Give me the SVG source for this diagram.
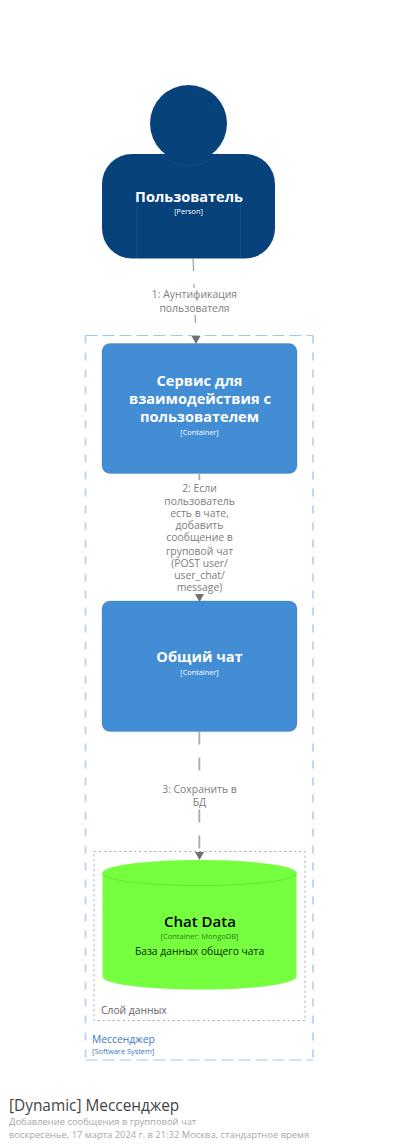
<svg xmlns="http://www.w3.org/2000/svg" width="400" height="1146" viewBox="0 0 400 1146">
<style>
text{font-family:"Open Sans","Noto Sans","DejaVu Sans",sans-serif;text-anchor:middle}
.link{fill:none;stroke:#adadad;stroke-width:1.9;stroke-dasharray:13 13}
.thin{stroke:#8c8c8c;stroke-width:1}
.lab{font-size:10.4px;fill:#7d7d7d}
.mask{fill:#fff}
.cont{fill:#438dd5;stroke:#2e6295;stroke-opacity:.25;stroke-width:1}
.wt{fill:#fff;font-weight:700}
.tag{font-size:7.3px}
.left{text-anchor:start}
.head{fill:#707070}
.bh{fill:none;stroke:#a3c5e6;stroke-width:1.1;stroke-dasharray:12 5}
.bv{fill:none;stroke:#bcd3ea;stroke-width:1.8;stroke-dasharray:8 9}
</style>
<rect width="400" height="1146" fill="#fff"/>
<g id="boundary-system">
<path class="bh" d="M85.500 335.500H313M85.500 1060H313"/>
<path class="bv" d="M85.500 335.500V1060M313 335.500V1060"/>
<text class="left" x="92" y="1043" font-size="10.300px" fill="#3a79bd">Мессенджер</text>
<text class="left" x="92" y="1054" font-size="7.400px" fill="#3a79bd">[Software System]</text>
</g>
<g id="boundary-data">
<rect x="94" y="851.5" width="211" height="169" fill="none" stroke="#b5b5b5" stroke-width="1" stroke-dasharray="2.5 2.5"/>
<text class="left" x="101" y="1014" font-size="10.300px" fill="#666">Слой данных</text>
</g>
<g id="person">
<circle cx="188.5" cy="123.5" r="38.5" fill="#08427b"/>
<rect x="102" y="154" width="173" height="104.500" rx="30" fill="#08427b"/>
<path d="M137 202V258M240.500 202V258" stroke="#1d5288" stroke-width=".8" fill="none"/>
<path d="M160 153.500A38.500 38.500 0 0 0 217 153.500" stroke="#1d5288" stroke-width=".6" fill="none"/>
<text class="wt" x="189" y="202" font-size="14.500px">Пользователь</text>
<text x="188.500" y="214" class="tag" fill="#fff">[Person]</text>
</g>
<g id="service">
<rect class="cont" x="102" y="343.500" width="195" height="130" rx="8"/>
<text class="wt" x="199.500" y="385.500" font-size="14.600px">Сервис для</text>
<text class="wt" x="200" y="403.500" font-size="14.600px">взаимодействия с</text>
<text class="wt" x="199.500" y="421.500" font-size="14.600px">пользователем</text>
<text x="199.500" y="434.500" class="tag" fill="#fff">[Container]</text>
</g>
<g id="chat">
<rect class="cont" x="102" y="601" width="195" height="130.500" rx="8"/>
<text class="wt" x="199.500" y="662" font-size="14.600px">Общий чат</text>
<text x="199.500" y="674.500" class="tag" fill="#fff">[Container]</text>
</g>
<g id="chat-data">
<path d="M102.500 873C102.500 865.500 146 860 199.500 860S296.500 865.500 296.500 873V976.500C296.500 984 253 989.500 199.500 989.500S102.500 984 102.500 976.500Z" fill="#76ff3e"/>
<path d="M102.500 873C102.500 880.500 146 885.500 199.500 885.500S296.500 880.500 296.500 873" fill="none" stroke="#62dc34" stroke-width=".8"/>
<text x="200" y="927" font-size="15px" font-weight="600" fill="#000">Chat Data</text>
<text x="199.500" y="938.500" class="tag" fill="#33781a" style="font-size:7.500px">[Container: MongoDB]</text>
<text x="199.500" y="955" font-size="10.300px" fill="#0b2b00">База данных общего чата</text>
</g>
<g id="connectors">
<path class="link thin" d="M193 258L195.900 336"/>
<path class="head" d="M191.500 336H200.500L196 344Z"/>
<rect class="mask" x="148" y="288" width="94" height="27"/>
<text class="lab" x="194.500" y="298">1: Аунтификация</text>
<text class="lab" x="194.500" y="312">пользователя</text>
<path class="link" d="M199.300 473.500V594"/>
<path class="head" d="M195 594H204L199.500 602Z"/>
<rect class="mask" x="163" y="480" width="73" height="113"/>
<text class="lab" x="199.500" y="492">2: Если</text>
<text class="lab" x="199.500" y="504.500">пользователь</text>
<text class="lab" x="199.500" y="516.500">есть в чате,</text>
<text class="lab" x="199.500" y="529">добавить</text>
<text class="lab" x="199.500" y="541">сообщение в</text>
<text class="lab" x="199.500" y="554.500">груповой чат</text>
<text class="lab" x="199.500" y="566.500">(POST user/</text>
<text class="lab" x="199.500" y="578.500">user_chat/</text>
<text class="lab" x="199.500" y="591">message)</text>
<path class="link" d="M199.300 731.500V852"/>
<path class="head" d="M195 852H204L199.500 860Z"/>
<rect class="mask" x="160" y="783" width="79" height="26"/>
<text class="lab" x="199.500" y="793">3: Сохранить в</text>
<text class="lab" x="199.500" y="806">БД</text>
</g>
<g id="title">
<text class="left" x="9" y="1111" font-size="15.400px" fill="#444">[Dynamic] Мессенджер</text>
<text class="left" x="9" y="1125" font-size="9.400px" fill="#a8a8a8">Добавление сообщения в групповой чат</text>
<text class="left" x="9" y="1138" font-size="9.400px" fill="#a8a8a8">воскресенье, 17 марта 2024 г. в 21:32 Москва, стандартное время</text>
</g>
</svg>
